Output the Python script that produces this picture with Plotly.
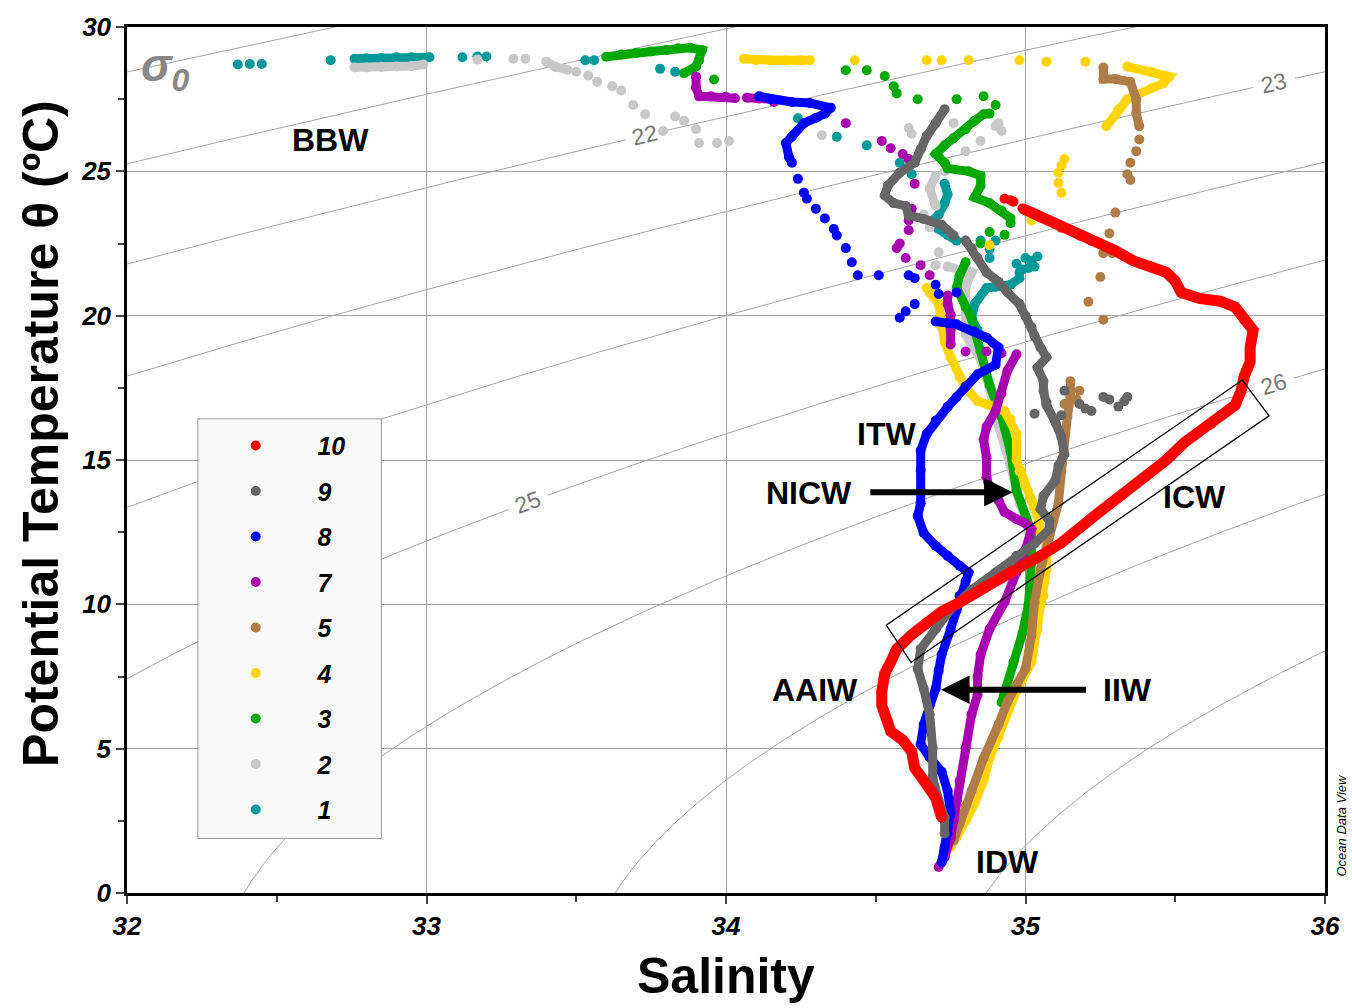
import numpy as np
import plotly.graph_objects as go

# ---------------- axes ----------------
S_RANGE = [32, 36]
T_RANGE = [0, 30]
x_ticks = [32, 33, 34, 35, 36]
y_ticks = [0, 5, 10, 15, 20, 25, 30]

# plot-area geometry (px)
M_L, M_R, M_T, M_B = 127, 24, 20, 115
FIG_W, FIG_H = 1352, 1008
PLOT_W = FIG_W - M_L - M_R
PLOT_H = FIG_H - M_T - M_B

# ---------------- station profiles (salinity, potential temperature) ----------------
# prof_*: continuous CTD segments (None separates segments); dots_*: isolated samples
prof_10 = [(34.72, 2.61), (34.70, 3.30), (34.66, 3.90), (34.63, 4.33), (34.62, 4.90), (34.59, 5.30),
           (34.55, 5.60), (34.54, 5.95), (34.52, 6.50), (34.52, 6.98), (34.53, 7.60), (34.55, 8.00),
           (34.57, 8.45), (34.62, 8.95), (34.67, 9.38), (34.72, 9.75), (34.78, 10.07), (34.86, 10.60),
           (34.95, 11.10), (35.04, 11.62), (35.12, 12.13), (35.23, 13.06), (35.32, 13.75), (35.40, 14.40),
           (35.47, 15.00), (35.53, 15.60), (35.62, 16.25), (35.70, 16.90), (35.72, 17.40), (35.73, 17.90),
           (35.75, 18.40), (35.75, 18.90), (35.76, 19.50), (35.73, 19.85), (35.70, 20.30), (35.65, 20.50),
           (35.58, 20.60), (35.52, 20.80), (35.50, 21.20), (35.47, 21.50), (35.42, 21.70), (35.36, 21.90),
           (35.30, 22.25), (35.26, 22.45), (35.22, 22.60), (35.18, 22.78), (35.12, 23.05), (35.05, 23.40),
           (34.99, 23.71)]
dots_10 = [(34.95, 24.00), (34.93, 24.05), (34.96, 23.95)]

prof_9 = [(34.73, 2.06), (34.73, 2.61), (34.71, 3.20), (34.69, 3.99), (34.69, 5.02), (34.68, 6.19),
          (34.66, 7.08), (34.64, 7.77), (34.65, 8.45), (34.70, 9.14), (34.75, 9.83), (34.82, 10.50),
          (34.90, 11.10), (34.97, 11.68), (35.03, 12.10), (35.08, 12.60), (35.08, 12.90), (35.05, 13.30),
          (35.06, 13.75), (35.10, 14.30), (35.11, 14.80), (35.13, 15.20), (35.12, 15.80), (35.10, 16.30),
          (35.07, 16.90), (35.06, 17.40), (35.06, 17.73), (35.04, 18.20), (35.07, 18.56), (35.05, 18.90),
          (35.03, 19.30), (35.02, 19.60), (35.00, 20.00), (34.98, 20.40), (34.94, 20.80), (34.91, 21.17),
          (34.87, 21.50), (34.84, 22.00), (34.82, 22.34), (34.80, 22.60),
          None,
          (34.76, 22.78), (34.72, 23.15), (34.66, 23.35), (34.61, 23.47), (34.60, 23.80), (34.56, 23.90),
          (34.53, 24.16), (34.54, 24.50), (34.58, 24.95), (34.63, 25.30), (34.65, 25.77), (34.67, 26.22),
          (34.70, 26.67), (34.73, 27.15)]
dots_9 = [(35.07, 17.00), (35.18, 16.94), (35.26, 17.18), (35.33, 17.04), (35.31, 16.85), (35.22, 16.70),
          (35.12, 16.55), (35.03, 16.60), (35.34, 17.18), (35.20, 16.78), (35.13, 17.40), (35.28, 17.10)]

prof_8 = [(34.72, 1.06), (34.73, 1.58), (34.74, 2.06), (34.75, 2.75), (34.74, 3.54), (34.72, 4.20),
          (34.68, 4.70), (34.65, 5.15), (34.66, 5.84), (34.68, 6.50), (34.70, 7.08), (34.71, 7.70),
          (34.72, 8.25), (34.75, 9.14), (34.77, 9.80), (34.78, 10.30), (34.80, 10.80), (34.81, 11.10),
          (34.78, 11.34), (34.74, 11.68), (34.70, 12.03), (34.66, 12.47), (34.64, 13.06), (34.65, 13.50),
          (34.65, 13.95), (34.65, 14.64), (34.65, 15.33), (34.67, 15.90), (34.70, 16.36), (34.74, 16.84),
          (34.77, 17.18), (34.80, 17.55), (34.84, 17.97), (34.90, 18.30), (34.91, 18.90), (34.87, 19.24),
          (34.83, 19.45), (34.77, 19.70), (34.70, 19.80),
          None,
          (34.22, 25.30), (34.21, 25.50), (34.20, 25.98), (34.22, 26.20), (34.26, 26.67), (34.30, 26.85),
          (34.33, 27.00), (34.35, 27.20), (34.28, 27.37), (34.22, 27.40), (34.15, 27.50), (34.11, 27.60)]
dots_8 = [(34.24, 24.74), (34.26, 24.26), (34.27, 24.05), (34.30, 23.70), (34.33, 23.37), (34.36, 23.00),
          (34.37, 22.78), (34.40, 22.34), (34.42, 21.85), (34.44, 21.40), (34.51, 21.40), (34.61, 21.40),
          (34.63, 21.30), (34.70, 21.07), (34.71, 20.75), (34.58, 19.93), (34.60, 20.15), (34.63, 20.40),
          (34.77, 20.80), (34.74, 19.75)]

prof_7 = [(34.71, 0.90), (34.73, 1.24), (34.75, 1.90), (34.76, 2.50), (34.77, 3.20), (34.78, 3.88),
          (34.80, 5.02), (34.82, 6.19), (34.84, 6.87), (34.84, 7.50), (34.85, 8.25), (34.88, 9.14),
          (34.93, 10.07), (34.97, 11.10), (35.00, 11.90), (35.02, 12.60), (35.00, 12.80), (34.97, 12.95),
          (34.93, 13.20), (34.91, 13.60), (34.88, 14.00), (34.87, 14.40), (34.87, 15.10), (34.86, 15.70),
          (34.87, 16.15), (34.90, 16.70), (34.92, 17.30), (34.94, 18.10), (34.97, 18.66),
          None,
          (34.75, 19.00), (34.75, 19.50), (34.75, 20.03), (34.74, 20.40), (34.74, 20.70),
          None,
          (33.90, 28.28), (33.90, 27.90), (33.91, 27.60), (33.95, 27.60), (34.00, 27.58), (34.03, 27.53),
          None,
          (34.07, 27.55), (34.11, 27.52), (34.15, 27.50), (34.16, 27.40)]
dots_7 = [(34.87, 18.76), (34.80, 18.76), (34.92, 18.70), (34.68, 21.40), (34.65, 21.75), (34.60, 22.00),
          (34.57, 22.34), (34.58, 22.50), (34.61, 22.96), (34.61, 23.30), (34.62, 23.70), (34.63, 24.57),
          (34.61, 25.43), (34.59, 25.60), (34.55, 25.80), (34.52, 26.05), (34.40, 26.67)]

prof_5 = [(34.76, 1.82), (34.78, 2.40), (34.80, 3.00), (34.82, 3.54), (34.86, 4.67), (34.91, 5.84),
          (34.94, 6.63), (34.97, 7.20), (35.00, 7.77), (35.02, 8.93), (35.03, 10.07), (35.05, 11.20),
          (35.08, 12.37), (35.11, 13.50), (35.12, 14.60), (35.13, 15.80), (35.14, 16.50), (35.15, 17.20),
          (35.15, 17.73),
          None,
          (35.38, 26.56), (35.37, 27.00), (35.37, 27.50), (35.35, 28.10), (35.30, 28.20), (35.26, 28.20),
          (35.26, 28.60)]
dots_5 = [(35.18, 17.40), (35.13, 16.94), (35.17, 17.10), (35.26, 19.86), (35.21, 20.48), (35.25, 21.34),
          (35.29, 22.16), (35.26, 22.16), (35.28, 22.85), (35.30, 23.57), (35.38, 26.10), (35.37, 25.70),
          (35.35, 25.30), (35.34, 24.90), (35.35, 24.70)]

prof_4 = [(34.75, 1.60), (34.77, 1.92), (34.80, 2.50), (34.83, 3.10), (34.86, 3.90), (34.88, 4.67),
          (34.91, 5.40), (34.93, 6.05), (34.97, 7.00), (35.02, 8.00), (35.04, 9.14), (35.06, 10.30),
          (35.07, 11.20), (35.07, 12.00), (35.05, 12.50), (35.04, 13.06), (35.02, 13.60), (35.00, 14.09),
          (34.98, 14.60), (34.97, 15.00), (34.97, 15.90), (34.95, 16.40), (34.93, 16.70), (34.88, 16.90),
          (34.84, 17.04), (34.80, 17.50), (34.78, 17.87), (34.75, 18.56), (34.73, 19.10), (34.72, 19.60),
          (34.71, 20.40), (34.68, 20.80),
          None,
          (35.27, 26.56), (35.31, 27.15), (35.34, 27.50), (35.42, 27.87), (35.46, 28.05), (35.48, 28.28),
          (35.42, 28.45), (35.34, 28.63),
          None,
          (34.06, 28.90), (34.10, 28.85), (34.15, 28.85), (34.20, 28.85), (34.25, 28.85), (34.28, 28.85)]
dots_4 = [(34.43, 28.85), (34.67, 28.85), (34.72, 28.85), (34.81, 28.85), (34.98, 28.85), (35.07, 28.80),
          (35.20, 28.80), (34.67, 20.96), (34.88, 22.44), (35.02, 23.30), (35.12, 24.26), (35.11, 24.60),
          (35.11, 24.95), (35.13, 25.43), (35.12, 25.20)]

prof_3 = [(33.60, 28.97), (33.65, 29.05), (33.70, 29.10), (33.75, 29.15), (33.80, 29.20), (33.84, 29.26),
          (33.88, 29.28), (33.92, 29.20), (33.91, 28.85), (33.90, 28.63), (33.86, 28.40),
          None,
          (34.88, 27.00), (34.86, 26.98), (34.83, 26.75), (34.80, 26.46), (34.76, 26.15), (34.73, 25.90),
          (34.70, 25.60), (34.73, 25.30), (34.74, 25.10), (34.81, 25.00), (34.85, 24.85), (34.85, 24.50),
          (34.83, 24.10), (34.88, 23.90), (34.92, 23.64), (34.95, 23.37), (34.95, 23.20),
          None,
          (34.80, 21.85), (34.78, 21.40), (34.77, 20.96), (34.80, 20.30), (34.82, 19.90), (34.85, 18.76),
          (34.88, 17.60), (34.92, 16.50), (34.95, 15.30), (34.97, 13.95), (35.00, 13.06), (35.02, 12.50),
          (35.02, 11.50), (35.01, 10.00), (34.99, 9.00), (34.96, 8.00), (34.93, 6.87), (34.92, 6.60)]
dots_3 = [(33.96, 28.18), (34.40, 28.50), (34.47, 28.50), (34.53, 28.30), (34.56, 27.95), (34.57, 27.70),
          (34.64, 27.50), (34.77, 27.50), (34.86, 27.60), (34.90, 27.30), (34.88, 22.90), (34.85, 22.50),
          (34.93, 22.80)]

prof_2 = [(32.76, 28.60), (32.80, 28.60), (32.85, 28.62), (32.90, 28.63), (32.95, 28.65), (32.99, 28.70),
          None,
          (33.40, 28.80), (33.43, 28.62), (33.47, 28.52),
          None,
          (34.70, 24.85), (34.68, 24.40), (34.70, 23.80),
          None,
          (34.74, 21.70), (34.82, 21.50), (34.80, 21.00), (34.80, 20.00), (34.80, 19.35), (34.85, 18.50),
          (34.88, 17.50), (34.90, 16.50), (34.93, 15.60), (34.95, 14.80), (34.98, 13.50), (35.00, 13.00),
          (35.01, 12.50)]
dots_2 = [(33.17, 28.87), (33.29, 28.90), (33.33, 28.90), (33.50, 28.45), (33.54, 28.32), (33.57, 28.10),
          (33.62, 27.95), (33.65, 27.80), (33.69, 27.30), (33.73, 26.98), (33.79, 26.40), (33.83, 26.90),
          (33.86, 26.75), (33.90, 26.46), (33.91, 25.98), (33.97, 25.98), (34.01, 26.05), (34.32, 26.25),
          (34.61, 26.50), (34.76, 26.67), (34.85, 26.05), (34.90, 26.56), (34.91, 26.67), (34.92, 26.40),
          (34.80, 25.70), (34.66, 23.50), (34.68, 23.06), (34.71, 22.20), (34.70, 21.75), (34.62, 26.30),
          (34.73, 25.00)]

prof_1 = [(32.76, 28.90), (32.80, 28.92), (32.85, 28.93), (32.90, 28.95), (32.95, 28.95), (33.01, 28.95),
          None,
          (34.73, 24.57), (34.74, 24.20), (34.73, 23.90), (34.71, 23.50), (34.69, 23.30), (34.71, 23.00),
          (34.74, 22.80), (34.77, 22.60),
          None,
          (34.98, 21.30), (34.95, 21.07), (34.90, 21.00), (34.87, 20.96), (34.83, 20.40), (34.82, 19.90),
          (34.84, 19.50)]
dots_1 = [(32.37, 28.70), (32.41, 28.72), (32.45, 28.72), (32.68, 28.85), (33.12, 28.95), (33.17, 28.98),
          (33.20, 28.98), (33.53, 28.85), (33.56, 28.85), (33.78, 28.55), (33.83, 28.45), (34.24, 26.84),
          (34.37, 26.20), (34.47, 25.90), (34.58, 25.30), (34.62, 24.90), (34.85, 22.60), (34.88, 22.30),
          (34.90, 22.60), (34.88, 22.00), (34.97, 21.80), (35.00, 22.00), (35.02, 21.90), (35.03, 21.70),
          (34.99, 21.60), (35.04, 22.05), (34.98, 21.50), (35.01, 21.65)]

station_names = ["1", "2", "3", "4", "5", "7", "8", "9", "10"]
station_colors = ["#009999", "#c8c8c8", "#00a800", "#ffd400", "#b07c48",
                  "#a800b0", "#0000ff", "#666666", "#ff0000"]
station_profiles = [prof_1, prof_2, prof_3, prof_4, prof_5, prof_7, prof_8, prof_9, prof_10]
station_dots = [dots_1, dots_2, dots_3, dots_4, dots_5, dots_7, dots_8, dots_9, dots_10]

# ---------------- isopycnals (sigma-0, UNESCO EOS-80 at p = 0) ----------------
sigma_levels = [20, 21, 22, 23, 24, 25, 26, 27, 28]
# labelled isopycnals and the salinity at which each label sits
sigma_labels = {22: 33.73, 23: 35.83, 25: 33.34, 26: 35.83}


def sigma0(S, T):
    rho_w = (999.842594 + 6.793952e-2 * T - 9.095290e-3 * T**2 + 1.001685e-4 * T**3
             - 1.120083e-6 * T**4 + 6.536332e-9 * T**5)
    a = 8.24493e-1 - 4.0899e-3 * T + 7.6438e-5 * T**2 - 8.2467e-7 * T**3 + 5.3875e-9 * T**4
    b = -5.72466e-3 + 1.0227e-4 * T - 1.6546e-6 * T**2
    return rho_w + a * S + b * S**1.5 + 4.8314e-4 * S**2 - 1000.0


def theta_on_isopycnal(S, level, t_lo=-3.0, t_hi=40.0):
    S = np.asarray(S, dtype=float)
    lo = np.full_like(S, t_lo)
    hi = np.full_like(S, t_hi)
    ok = (sigma0(S, lo) >= level) & (sigma0(S, hi) <= level)
    for _ in range(60):
        mid = 0.5 * (lo + hi)
        denser = sigma0(S, mid) > level
        lo = np.where(denser, mid, lo)
        hi = np.where(denser, hi, mid)
    T = 0.5 * (lo + hi)
    return np.where(ok, T, np.nan)


px_per_S = PLOT_W / (S_RANGE[1] - S_RANGE[0])
px_per_T = PLOT_H / (T_RANGE[1] - T_RANGE[0])

fig = go.Figure()
annotations = []

s_grid = np.linspace(S_RANGE[0], S_RANGE[1], 801)
for lev in sigma_levels:
    tt = theta_on_isopycnal(s_grid, lev)
    if lev in sigma_labels:
        s_lab = sigma_labels[lev]
        t_lab = float(theta_on_isopycnal([s_lab], lev)[0])
        # leave a gap in the line around the label
        dist = np.hypot((s_grid - s_lab) * px_per_S, (tt - t_lab) * px_per_T)
        tt = np.where(dist < 20, np.nan, tt)
        ds = 0.02
        dt = float(theta_on_isopycnal([s_lab + ds], lev)[0] - theta_on_isopycnal([s_lab - ds], lev)[0])
        ang = -np.degrees(np.arctan2(dt * px_per_T, 2 * ds * px_per_S))
        annotations.append(dict(x=s_lab, y=t_lab, xref="x", yref="y", text=str(lev),
                                showarrow=False, textangle=ang,
                                font=dict(family="Liberation Sans, Arial, sans-serif", size=23,
                                          color="#777777")))
    yy = [None if np.isnan(v) else float(v) for v in tt]
    fig.add_trace(go.Scatter(x=s_grid, y=yy, mode="lines", showlegend=False, hoverinfo="skip",
                             line=dict(color="#a6a6a6", width=1), connectgaps=False))

# ---------------- stations ----------------
n_st = len(station_names)
for i, (name, col, prof, dots) in enumerate(zip(station_names, station_colors,
                                               station_profiles, station_dots)):
    px = [p[0] if p is not None else None for p in prof]
    py = [p[1] if p is not None else None for p in prof]
    lw = 11 if name == "10" else 9
    fig.add_trace(go.Scatter(x=px, y=py, mode="lines", line=dict(color=col, width=lw),
                             connectgaps=False, showlegend=False, legendgroup=name, hoverinfo="skip"))
    pts = [p for p in prof if p is not None] + dots
    fig.add_trace(go.Scatter(x=[p[0] for p in pts], y=[p[1] for p in pts], mode="markers",
                             name="\u00a0" * 6 + name, legendgroup=name, legendrank=n_st - i,
                             marker=dict(color=col, size=10, line=dict(width=0))))

# ---------------- water-mass labels & arrows ----------------
lab_font = dict(family="Liberation Sans, Arial, sans-serif", size=32, color="black", weight="bold")
water_masses = [("BBW", 32.68, 26.1), ("ITW", 34.535, 15.9), ("NICW", 34.278, 13.85),
                ("ICW", 35.564, 13.71), ("AAIW", 34.298, 7.04), ("IIW", 35.34, 7.04),
                ("IDW", 34.94, 1.07)]
for txt, xs, yt in water_masses:
    annotations.append(dict(x=xs, y=yt, xref="x", yref="y", text=txt, showarrow=False, font=lab_font))

# arrows: (tip S, tip T, tail S, tail T)
arrows = [(34.957, 13.88, 34.477, 13.88), (34.718, 7.04, 35.207, 7.04)]
for xt, yt, xa, ya in arrows:
    annotations.append(dict(x=xt, y=yt, ax=xa, ay=ya, xref="x", yref="y", axref="x", ayref="y",
                            text="", showarrow=True, arrowhead=2, arrowsize=0.95, arrowwidth=6,
                            arrowcolor="black", standoff=0))

# sigma-0 symbol
annotations.append(dict(x=(166 - M_L) / PLOT_W, y=(FIG_H - M_B - 62) / PLOT_H, xref="paper", yref="paper",
                        text="<b><i>σ<sub>0</sub></i></b>", showarrow=False,
                        xanchor="center", yanchor="middle",
                        font=dict(family="Liberation Sans, Arial, sans-serif", size=46, color="#888888")))

# axis titles
title_font = dict(family="Liberation Sans, Arial, sans-serif", size=50, color="black", weight="bold")
annotations.append(dict(x=(728 - M_L) / PLOT_W, y=(FIG_H - M_B - 977) / PLOT_H, xref="paper", yref="paper",
                        text="Salinity", showarrow=False, font=title_font,
                        xanchor="center", yanchor="middle"))
annotations.append(dict(x=(40 - M_L) / PLOT_W, y=(FIG_H - M_B - 430) / PLOT_H, xref="paper", yref="paper",
                        text="Potential Temperature θ (ºC)", showarrow=False, font=title_font,
                        textangle=-90, xanchor="center", yanchor="middle"))

# software credit
annotations.append(dict(x=(1345 - M_L) / PLOT_W, y=(FIG_H - M_B - 824) / PLOT_H, xref="paper", yref="paper",
                        text="<i>Ocean Data View</i>", showarrow=False, textangle=-90,
                        font=dict(family="Liberation Sans, Arial, sans-serif", size=13, color="black"),
                        xanchor="center", yanchor="middle"))

# ---------------- shapes ----------------
shapes = [
    # ICW envelope
    dict(type="path", xref="x", yref="y",
         path="M 35.724,17.77 L 35.813,16.53 L 34.618,7.99 L 34.535,9.28 Z",
         line=dict(color="black", width=1.3), layer="above"),
    # legend panel
    dict(type="rect", xref="paper", yref="paper",
         x0=(198 - M_L) / PLOT_W, x1=(382 - M_L) / PLOT_W,
         y0=(FIG_H - M_B - 838) / PLOT_H, y1=(FIG_H - M_B - 415) / PLOT_H,
         fillcolor="#f9f9f9", line=dict(color="#9a9a9a", width=1), layer="above"),
]

tick_font = dict(family="Liberation Sans, Arial, sans-serif", size=26, color="black",
                 weight="bold", style="italic")
axis_common = dict(showgrid=True, gridcolor="#a0a0a0", gridwidth=1, zeroline=False,
                   showline=True, linecolor="black", linewidth=2.5, mirror=True,
                   ticks="outside", ticklen=8, tickwidth=1.5, tickcolor="#444444",
                   tickfont=tick_font)

fig.update_layout(
    width=FIG_W, height=FIG_H,
    margin=dict(l=M_L, r=M_R, t=M_T, b=M_B),
    paper_bgcolor="white", plot_bgcolor="white",
    xaxis=dict(range=S_RANGE, tickvals=x_ticks,
               minor=dict(dtick=0.5, ticks="outside", ticklen=6, tickcolor="#444444", showgrid=False),
               **axis_common),
    yaxis=dict(range=T_RANGE, tickvals=y_ticks,
               minor=dict(dtick=2.5, ticks="outside", ticklen=6, tickcolor="#444444", showgrid=False),
               **axis_common),
    showlegend=True,
    legend=dict(x=(236 - M_L) / PLOT_W, y=(FIG_H - M_B - 419) / PLOT_H, xanchor="left", yanchor="top",
                bgcolor="rgba(0,0,0,0)", borderwidth=0, traceorder="grouped",
                tracegroupgap=10,
                font=dict(family="Liberation Sans, Arial, sans-serif", size=25, color="black",
                          weight="bold", style="italic")),
    annotations=annotations,
    shapes=shapes,
)

fig.write_html("out.html")
